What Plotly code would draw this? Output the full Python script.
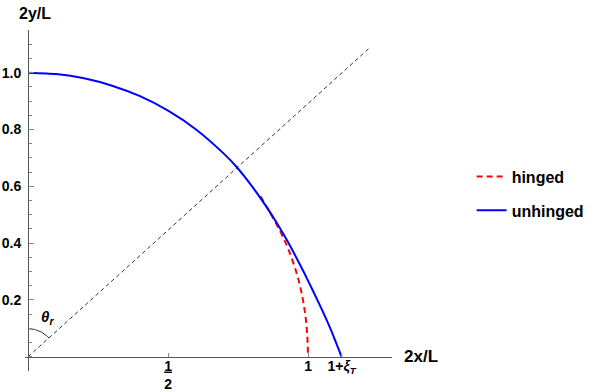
import numpy as np
import plotly.graph_objects as go

# Curva sin bisagra (unhinged)
unhinged_x = [0.0, 0.1, 0.2, 0.3, 0.4, 0.5, 0.6, 0.7, 0.745, 0.8, 0.85, 0.894, 0.93, 0.971, 1.0, 1.043, 1.08, 1.12]
unhinged_y = [1.0, 0.995, 0.98, 0.954, 0.917, 0.866, 0.80, 0.714, 0.668, 0.600, 0.530, 0.462, 0.401, 0.325, 0.268, 0.180, 0.099, 0.0]

# Curva con bisagra (hinged)
hinged_x = [0.83, 0.86, 0.90, 0.93, 0.96, 0.977, 0.99, 0.997, 1.0]
hinged_y = [0.565, 0.515, 0.443, 0.378, 0.292, 0.225, 0.15, 0.08, 0.0]

# Recta discontinua desde el origen
diag_x = [0.0, 1.223]
diag_y = [0.0, 1.09]

x_tick_vals = [0.5, 1.0, 1.12]
x_tick_text = ["<u>1</u><br>2", "1", "1+<i>ξ<sub>T</sub></i>"]
y_tick_vals = [0.2, 0.4, 0.6, 0.8, 1.0]
y_tick_text = ["0.2", "0.4", "0.6", "0.8", "1.0"]

x_range = [-0.011, 1.30]
y_range = [-0.05, 1.15]

FONT = "Liberation Sans, Arial, sans-serif"

# Área de trazado en píxeles (izq, arriba, ancho, alto)
ML, MT, PW, PH = 25, 30, 367, 341

fig = go.Figure()

fig.add_trace(
    go.Scatter(
        x=diag_x, y=diag_y, mode="lines",
        line=dict(color="#333333", width=1, dash="4px,3px"),
        showlegend=False, hoverinfo="none",
    )
)

# Arco del angulo theta_r
ang_end = np.arctan2(diag_y[1], diag_x[1])
ang = np.linspace(np.pi / 2, ang_end, 30)
fig.add_trace(
    go.Scatter(
        x=0.1 * np.cos(ang), y=0.099 * np.sin(ang), mode="lines",
        line=dict(color="#333333", width=1),
        showlegend=False, hoverinfo="none",
    )
)

fig.add_trace(
    go.Scatter(
        x=hinged_x, y=hinged_y, mode="lines", name="hinged",
        line=dict(color="#ff0000", width=2, dash="6px,4px", shape="spline"),
        legendgroup="a",
    )
)
fig.add_trace(
    go.Scatter(
        x=unhinged_x, y=unhinged_y, mode="lines", name="unhinged",
        line=dict(color="#0000ff", width=2, shape="spline", smoothing=0.6),
        legendgroup="b",
    )
)

fig.add_annotation(
    x=0.068, y=0.138, xref="x", yref="y", showarrow=False,
    text="<b><i>θ<sub>r</sub></i></b>", font=dict(family=FONT, size=15, color="black"),
)
fig.add_annotation(
    x=(35 - ML) / PW, y=(MT + PH - 13) / PH, xref="paper", yref="paper",
    xanchor="center", yanchor="middle", showarrow=False,
    text="<b>2y/L</b>", font=dict(family=FONT, size=16, color="black"),
)
fig.add_annotation(
    x=1.30, y=0, xref="x", yref="y", xanchor="left", xshift=10, showarrow=False,
    text="<b>2x/L</b>", font=dict(family=FONT, size=17, color="black"),
)

fig.update_layout(
    width=599,
    height=392,
    margin=dict(l=ML, r=599 - ML - PW, t=MT, b=392 - MT - PH, autoexpand=False),
    plot_bgcolor="white",
    paper_bgcolor="white",
    font=dict(family=FONT, size=13, color="black"),
    xaxis=dict(
        range=x_range, showgrid=False, zeroline=False, automargin=False,
        showline=True, linecolor="#555555", linewidth=1,
        anchor="free", position=(0 - y_range[0]) / (y_range[1] - y_range[0]),
        tickvals=x_tick_vals, ticktext=x_tick_text,
        ticks="inside", ticklen=4, tickcolor="#888888",
        ticklabelstandoff=-4,
        tickfont=dict(family=FONT, size=14, weight="bold"),
    ),
    yaxis=dict(
        range=y_range, showgrid=False, zeroline=False, automargin=False,
        showline=True, linecolor="#555555", linewidth=1,
        anchor="free", position=(0 - x_range[0]) / (x_range[1] - x_range[0]),
        tickvals=y_tick_vals, ticktext=y_tick_text,
        ticks="inside", ticklen=5, tickcolor="#888888",
        ticklabelstandoff=4,
        tickfont=dict(family=FONT, size=14, weight="bold"),
        minor=dict(dtick=0.05, tick0=0, ticks="inside", ticklen=3, tickcolor="#888888"),
    ),
    legend=dict(
        x=1.217, y=0.62, xanchor="left", yanchor="top",
        font=dict(family=FONT, size=16, weight="bold"),
        tracegroupgap=10, bgcolor="rgba(0,0,0,0)",
    ),
)

# sin el margen por defecto del body, la figura ocupa toda la ventana
fig.write_html(
    "out.html",
    config={"displayModeBar": False},
    post_script="document.body.style.margin='0';",
)
